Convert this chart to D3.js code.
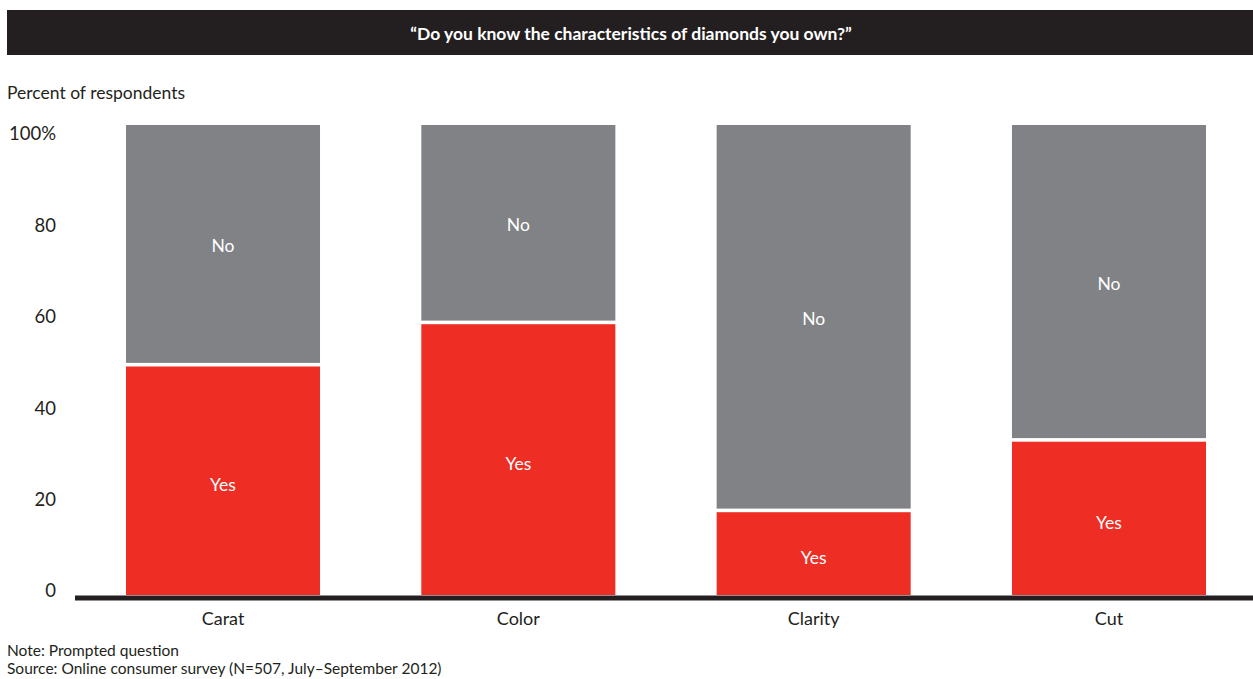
<!DOCTYPE html>
<html><head><meta charset="utf-8">
<script src="https://cdn.jsdelivr.net/npm/d3@7"></script>
<style>body{margin:0;background:#fff}svg{display:block}text{font-family:Lato,"Noto Sans",sans-serif}</style>
</head><body><svg id="c" width="1253" height="679"></svg>
<script>
const categories = ["Carat","Color","Clarity","Cut"];
const yesValues = [49, 58, 18, 33];
const noValues = [51, 42, 82, 67];
const tickValues = [0, 20, 40, 60, 80, 100];
const tickLabels = ["0","20","40","60","80","100%"];
const title = "\u201cDo you know the characteristics of diamonds you own?\u201d";
const yLabel = "Percent of respondents";
const notes = ["Note: Prompted question","Source: Online consumer survey (N=507, July\u2013September 2012)"];

const svg = d3.select("#c");
const RED = "#ee2e24", GRAY = "#818285", DARK = "#231f20";
const FONT = "Lato,'Noto Sans',sans-serif";

svg.append("rect").attr("x",7).attr("y",10).attr("width",1246).attr("height",45).attr("fill",DARK);
svg.append("text").attr("x",631).attr("y",33).attr("text-anchor","middle").attr("dominant-baseline","central")
  .attr("fill","#fff").attr("font-size",17.5).attr("font-weight","bold").text(title);
svg.append("text").attr("x",7).attr("y",92).attr("dominant-baseline","central").attr("font-size",17.5).attr("fill",DARK).text(yLabel);

const x = d3.scaleBand().domain(categories).range([126,1206]).paddingInner(0.343).paddingOuter(0);
const y = d3.scaleLinear().domain([0,100]).range([595,125]);
const yLab = d3.scaleLinear().domain([0,100]).range([591,134]);

const ax = svg.append("g").attr("transform","translate(56,0)")
  .call(d3.axisLeft(yLab).tickValues(tickValues).tickSize(0).tickPadding(0).tickFormat((d,i)=>tickLabels[i]));
ax.select(".domain").remove();
ax.selectAll("text").attr("font-size",18.5).attr("fill",DARK).attr("font-family",FONT);

const gap = 1.8;
const data = categories.map((c,i)=>({c, yes:yesValues[i], no:noValues[i]}));
const g = svg.append("g");
g.selectAll(".yes").data(data).join("rect").attr("class","yes")
  .attr("x",d=>x(d.c)).attr("width",x.bandwidth())
  .attr("y",d=>y(d.yes)+gap).attr("height",d=>y(0)-y(d.yes)-gap).attr("fill",RED);
g.selectAll(".no").data(data).join("rect").attr("class","no")
  .attr("x",d=>x(d.c)).attr("width",x.bandwidth())
  .attr("y",d=>y(d.yes+d.no)).attr("height",d=>y(d.yes)-y(d.yes+d.no)-gap).attr("fill",GRAY);

g.selectAll(".ly").data(data).join("text").attr("x",d=>x(d.c)+x.bandwidth()/2)
  .attr("y",d=>(y(0)+y(d.yes))/2+5).attr("text-anchor","middle").attr("dominant-baseline","central")
  .attr("fill","#fff").attr("font-size",17.5).text("Yes");
g.selectAll(".ln").data(data).join("text").attr("x",d=>x(d.c)+x.bandwidth()/2)
  .attr("y",d=>(y(d.yes)+y(d.yes+d.no))/2+1).attr("text-anchor","middle").attr("dominant-baseline","central")
  .attr("fill","#fff").attr("font-size",17.5).text("No");

svg.append("line").attr("x1",75).attr("x2",1253).attr("y1",598).attr("y2",598).attr("stroke",DARK).attr("stroke-width",5);
const xa = svg.append("g").attr("transform","translate(0,601)").call(d3.axisBottom(x).tickSize(0).tickPadding(0));
xa.select(".domain").remove();
xa.selectAll("text").attr("dy",null).attr("y",17).attr("dominant-baseline","central").attr("font-size",18).attr("fill",DARK).attr("font-family",FONT);

svg.selectAll(".note").data(notes).join("text").attr("x",7).attr("y",(d,i)=>650+i*18)
  .attr("dominant-baseline","central").attr("font-size",15.5).attr("fill",DARK).text(d=>d);
</script></body></html>
